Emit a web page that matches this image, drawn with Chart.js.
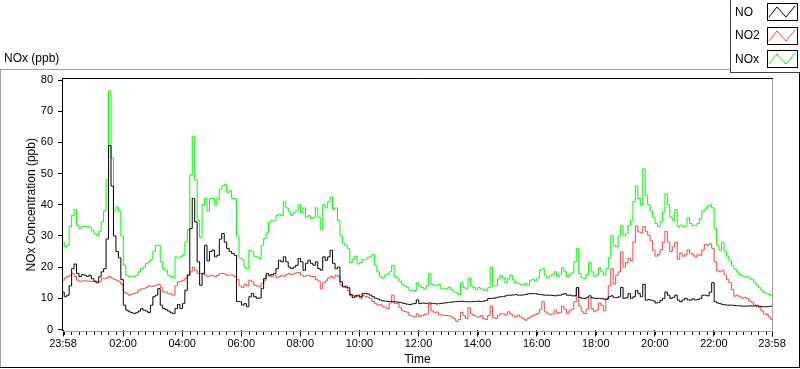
<!DOCTYPE html>
<html><head><meta charset="utf-8">
<script src="https://cdn.jsdelivr.net/npm/chart.js@4"></script>
<style>html,body{margin:0;padding:0;background:#fff;overflow:hidden}#wrap{width:800px;height:369px;position:relative}</style>
</head><body><div id="wrap"><canvas id="c" width="800" height="369"></canvas></div>
<script>
// ---- data ----
const startClock = "23:58";
const stepMinutes = 5;
const tickLabels = ["23:58","02:00","04:00","06:00","08:00","10:00","12:00","14:00","16:00","18:00","20:00","22:00","23:58"];
const seriesNames = ["NO","NO2","NOx"];
const NO = [
12,10.5,11,14,19.5,21,18,17,17.6,17.4,
17,17.4,16.3,15.5,15,16.9,18.5,19.5,29,59,
46,30,25,23,16,7.8,6.2,5.7,5.4,5.1,
5.4,5.9,6.7,6.2,5.9,5.4,7.8,10.5,11,13.1,
7.8,6.7,6.4,5.9,5.4,5.1,6.7,8,6.7,8.3,
12.6,17.4,32.4,42,34.5,21.7,14.2,18,27,22,
25,25.5,23.3,23.8,29,30.8,28,26,25,24.4,
23.8,9,8.9,7.8,8.3,7.3,10.5,11.5,10.5,10,
10.1,13.1,16.3,18,17.4,17.6,18,19.5,22.2,21.7,
23.3,21.7,20,19.5,20,20.6,22.8,21.7,19,21.2,
22.2,21.2,20.6,21.7,19.5,19,23.3,22.2,23.3,25.4,
21.2,19.5,20,15.3,13.7,13.6,13.4,11.2,10.2,10.8,
11,10.5,11.5,11.5,11.4,11,10.5,10,9.8,9.4,
9.2,9.1,9,9,8.9,8.9,8.8,8.7,8.5,8.3,
8.1,8,8.2,8.3,9.5,8.3,8.5,8.4,8.4,8.5,
8.4,8.3,8.2,8.3,8.4,8.5,8.6,8.7,8.8,8.9,
9,9,9.1,9,8.9,8.9,8.9,9,9,9.1,
9,9.1,9.3,9.9,10,10,10.2,10.4,10.5,10.6,
10.8,11,11,11.1,11.2,11,11,11.1,11.2,11.4,
11.5,11.5,11.5,11.3,11.2,11.1,11,11,11,10.9,
10.8,11,11,11.3,11.5,11,11,10.8,10.8,13.5,
10.3,10,9.9,10.3,10.8,10.2,10,10,10,9.9,
9.7,9.7,10.5,10.8,10.3,10.2,10.5,13.5,10,10.2,
11.5,10,10.5,12.5,11.5,10.5,14.5,9.4,9.6,9.4,
9.2,8.5,8.7,9.3,10,12,11,10,10.3,11,
9.4,8.9,9.5,10,9.5,9.4,9.8,9.5,9.6,10,
11,11,10.8,12,15,8.9,8.5,8.3,8,7.9,
7.8,7.8,7.8,7.7,7.6,7.6,7.5,7.5,7.5,7.6,
7.5,7.6,7.5,7.4,7.3,7.3,7.3,7.4,7.5
];
const NO2 = [
15.8,16.5,17,17.4,18,17,15.8,15.3,15.6,15.6,
15.5,15.5,15.3,15.3,15.2,15.3,16.3,16.3,16.5,17,
16.5,16,15.8,15.3,14.5,12,11.5,11,11.3,11.5,
11.8,12.6,13,13.1,13.5,14,13.8,14,14.2,14.5,
13.5,12,12,11.5,11.3,11,14,15.3,15.5,15.8,
16.5,17.5,18.5,20,19,18,18,17.8,17.4,17,
17.4,17.2,17,17.4,18,18,17.8,17.4,17.5,17.4,
17,16,14,13.5,14.5,14,15.8,15.3,14.2,14,
13.7,14.8,15.8,17.2,17.2,17,17.4,16.6,17,17.4,
17,17.6,18,17.6,18,18.2,18.3,17.4,17,17.3,
17.4,17,17,16,15.5,13.1,15,15.6,16.5,17,
16.5,17.4,17,14.2,13.7,14,12.5,10.8,11,10.5,
10.6,10,11,10.6,10.4,10,9,8.3,7.8,8,
7.3,7.2,6.7,8.5,11,8.3,8.3,7,6,5.8,
5.5,4.5,4.3,4,5,4.2,4.5,4.8,5,8,
6,5.5,5.6,4.8,4.6,4.6,4.5,4.4,4,3.5,
2.6,3.2,5.5,4.5,3.5,7,5,4.5,4.2,4,
4.5,3.5,3.2,4.5,7.5,3.8,3.5,4.6,5.1,5,
4.6,5.7,5,4.3,4,4.6,4,3.5,3,3.5,
4,4.4,4.8,5.1,6.5,8.9,5.7,5.2,4.7,5,
6.2,5.2,5.5,7.5,6.5,5.1,6,6.5,8.9,13,
7.5,5.7,5.1,6.5,10,6.7,5.7,6.2,8.5,7.8,
6,10,14,19.5,14.5,17.4,18.5,24.9,20,21.5,
22.8,22,28,33.2,31.3,31,33,31.5,30.2,28.5,
25.4,23.5,24,25.5,28,31.5,28,25,26.5,28,
22.5,24.5,23.5,24,25.5,24.5,24,23.3,24,23.8,
25.5,27.3,27,27.5,26,21.7,18.8,18.5,19,17.5,
16,15,12.8,10.7,11,10.5,10,10.3,10,9.2,
8.7,7.8,7.8,7,6,5,4.8,4,3.2
];
const NOx = [
28,26.5,27,33,36.6,38.5,33.4,32.4,33,33,
33,32.8,31.8,30.8,30,31.5,34.5,38,48,76.5,
55,38,39.3,38,30,20.6,17.4,16.9,16.9,17,
17.4,18.5,19.5,20,21.2,21.7,22.5,25,27,27,
21.7,19.5,19,17.4,17,16.5,23.3,23,23.3,24,
28,32,49.5,62,48,35,29.5,40,42,38,
42,42,40,42,45,46,46.5,44,44.5,42,
42,30,23,22.5,20,19.5,25.4,25,23.5,23.3,
22.8,27,29.2,31,34.5,35,35,36.5,37,36.6,
41,39,37.8,36.6,37.5,38,40,37.5,39,36,
36.5,35.6,36,39,36,32,40,39,41,42.5,
38.5,39,35,30,27.6,27,26,21.5,22.5,23.5,
21,21.5,22.5,22.5,23,23.5,24,20.5,18.5,17,
16.5,17.5,17.8,18.5,20.5,17,16.5,15.5,14.5,14,
13.5,12.6,12.3,12.5,15,14,13.5,13,14,18,
14.5,14,14.3,14.5,13,13,13.2,13.6,12.8,12,
11.8,11.2,15,13.5,13,16.5,14,13.5,12.8,13.5,
13,12.8,12.5,13.4,20,14,14,16.3,17.4,16.5,
15,16.3,17.4,16,15,14.8,14.5,14.2,14.8,14.2,
15.8,16,15.5,16.5,19,19.5,17.4,16.5,17.2,17.6,
18.5,17,17.8,19.8,18.5,17,17.6,18.2,21.7,26,
18,16.5,16.3,17.6,21.5,18.5,17,17.6,19.8,18.5,
17.4,19.5,23,30.2,27,26.5,30,33.4,30,30.8,
33.4,35,41,46,42,40,51.5,43,40,38,
36,34,33,34.5,37.7,43.5,40,36,35,38.5,
33,33.5,33,33.2,35.8,34,33.3,33.4,34,35.6,
38,38.6,39.5,40,39,32.4,27,25.4,28,25,
23.5,22,20.5,19.4,18.5,17.6,17.2,16.9,16.9,16.5,
16.1,15.2,14.2,13.4,12.6,11.8,11.5,11.2,10.8
];

// ---- helpers ----
function clockToMin(s){ const p = s.split(":"); return (+p[0])*60 + (+p[1]); }
const startMin = clockToMin(startClock);
const tickPos = tickLabels.map((l, i) => {
  let off = (clockToMin(l) - startMin + 1440) % 1440;
  if (i === tickLabels.length - 1 && off === 0) off = 1440;
  return off;
});
const toPts = arr => arr.map((v, i) => ({x: i * stepMinutes, y: v}));
const FONT = "'Liberation Sans', Arial, sans-serif";

const decor = {
  id: 'decor',
  afterDraw(chart) {
    const ctx = chart.ctx, ca = chart.chartArea, xs = chart.scales.x;
    ctx.save();
    ctx.lineWidth = 1;
    // outer panel
    ctx.strokeStyle = '#a0a0a0';
    ctx.beginPath();
    ctx.moveTo(0, 69.5); ctx.lineTo(730, 69.5);
    ctx.moveTo(0.5, 69); ctx.lineTo(0.5, 368);
    ctx.stroke();
    ctx.strokeStyle = '#000';
    ctx.beginPath();
    ctx.moveTo(0, 367.5); ctx.lineTo(800, 367.5);
    ctx.moveTo(799.5, 72); ctx.lineTo(799.5, 368);
    ctx.stroke();
    // legend panel
    ctx.strokeStyle = '#404040';
    ctx.beginPath();
    ctx.moveTo(730.5, 0); ctx.lineTo(730.5, 73);
    ctx.moveTo(730, 72.5); ctx.lineTo(800, 72.5);
    ctx.stroke();
    // plot frame
    ctx.strokeStyle = '#000';
    ctx.beginPath();
    ctx.moveTo(62, 78.5); ctx.lineTo(773, 78.5);
    ctx.moveTo(62.5, 78); ctx.lineTo(62.5, 331);
    ctx.stroke();
    ctx.strokeStyle = '#a0a0a0';
    ctx.beginPath();
    ctx.moveTo(63, 331.5); ctx.lineTo(773, 331.5);
    ctx.moveTo(772.5, 79); ctx.lineTo(772.5, 332);
    ctx.stroke();
    // minor x ticks every 15 min
    ctx.strokeStyle = '#000';
    ctx.beginPath();
    for (let m = (60 - startMin % 60) % 15 || 15; m < 1440; m += 15) {
      const px = Math.round(xs.getPixelForValue(m)) + 0.5;
      ctx.moveTo(px, 332); ctx.lineTo(px, 335);
    }
    ctx.stroke();
    // title
    ctx.fillStyle = '#000';
    ctx.font = '12px ' + FONT;
    ctx.textBaseline = 'alphabetic';
    ctx.textAlign = 'left';
    ctx.fillText('NOx (ppb)', 4, 62);
    // legend
    const ds = chart.data.datasets;
    ctx.textBaseline = 'middle';
    ds.forEach((d, i) => {
      const top = 3 + i * 23.5;
      ctx.fillStyle = '#000';
      ctx.fillText(d.label, 735, top + 9.5);
      ctx.strokeStyle = '#000';
      ctx.strokeRect(767.5, Math.round(top) + 0.5, 30, 17);
      ctx.strokeStyle = d.borderColor;
      ctx.beginPath();
      const bx = 767, by = Math.round(top);
      ctx.moveTo(bx + 2, by + 14); ctx.lineTo(bx + 10, by + 4);
      ctx.lineTo(bx + 19, by + 14); ctx.lineTo(bx + 28, by + 3);
      ctx.stroke();
    });
    ctx.restore();
  }
};

new Chart(document.getElementById('c'), {
  type: 'line',
  data: {
    datasets: [
      {label: seriesNames[0], data: toPts(NO), borderColor: '#000000'},
      {label: seriesNames[1], data: toPts(NO2), borderColor: '#ff4040'},
      {label: seriesNames[2], data: toPts(NOx), borderColor: '#00ff00'}
    ].map(d => Object.assign(d, {borderWidth: 1, pointRadius: 0, stepped: 'middle', fill: false}))
  },
  options: {
    responsive: false, animation: false, devicePixelRatio: 1,
    layout: {padding: {left: 0, top: 80, right: 28, bottom: 0}},
    plugins: {legend: {display: false}, tooltip: {enabled: false}},
    scales: {
      x: {
        type: 'linear', min: 0, max: 1440,
        afterBuildTicks: s => { s.ticks = tickPos.map(v => ({value: v})); },
        afterFit: s => { s.height = 39.5; },
        ticks: {autoSkip: false, maxRotation: 0, color: '#000', font: {family: FONT, size: 11}, padding: 1,
                callback: (v, i) => tickLabels[i]},
        grid: {drawOnChartArea: false, drawTicks: true, tickLength: 7, color: '#000'},
        border: {display: false},
        title: {display: true, text: 'Time', color: '#000', font: {family: FONT, size: 12}, padding: {top: 0, bottom: 2}}
      },
      y: {
        min: 0, max: 80,
        afterFit: s => { s.width = 63; },
        ticks: {stepSize: 10, color: '#000', font: {family: FONT, size: 11}, padding: 5},
        grid: {drawOnChartArea: false, drawTicks: true, tickLength: 5, color: '#000'},
        border: {display: false},
        title: {display: true, text: 'NOx Concentration (ppb)', color: '#000', font: {family: FONT, size: 12}, padding: {top: 24, bottom: 0}}
      }
    }
  },
  plugins: [decor]
});
</script></body></html>
